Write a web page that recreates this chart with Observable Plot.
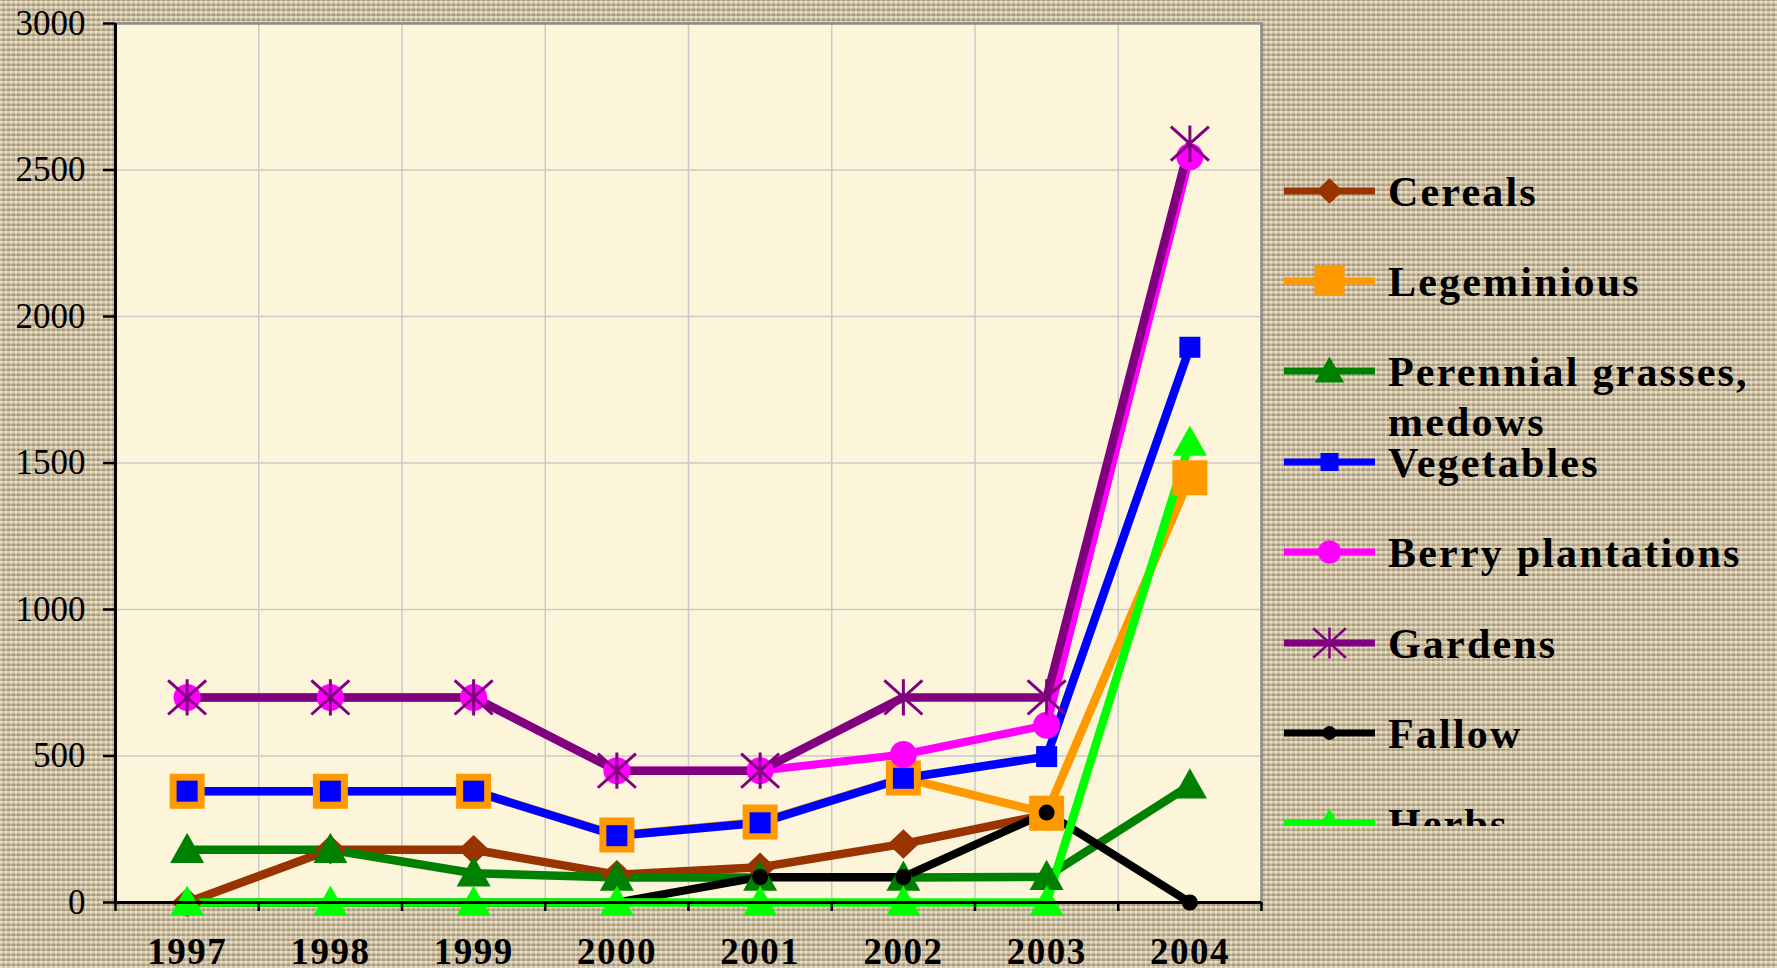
<!DOCTYPE html>
<html>
<head>
<meta charset="utf-8">
<script src="https://cdn.jsdelivr.net/npm/d3@7"></script>
<script src="https://cdn.jsdelivr.net/npm/@observablehq/plot@0.6"></script>
<style>
html, body { margin: 0; padding: 0; width: 1777px; height: 968px; overflow: hidden; }
body {
  position: relative;
  font-family: "Liberation Serif", "Times New Roman", serif;
  background-color: #c9bb9c;
  background-image:
    repeating-linear-gradient(0deg, rgba(255,250,232,0.40) 0px, rgba(255,250,232,0.40) 2px, rgba(110,92,62,0.20) 2px, rgba(110,92,62,0.20) 4px, rgba(255,250,232,0.10) 4px, rgba(255,250,232,0.10) 5px),
    repeating-linear-gradient(90deg, rgba(255,250,232,0.26) 0px, rgba(255,250,232,0.26) 2px, rgba(110,92,62,0.16) 2px, rgba(110,92,62,0.16) 5px);
}
#chart { position: absolute; left: 0; top: 0; }
#chart svg text { font-family: "Liberation Serif", "Times New Roman", serif; }
.xlab text { letter-spacing: 1.5px; }
#legend { position: absolute; left: 1282px; top: 140px; width: 495px; height: 686px; overflow: hidden; }
.sym { position: absolute; left: 0; }
.lab { position: absolute; left: 106px; width: 385px; font-weight: bold; font-size: 42px; letter-spacing: 2.2px; line-height: 50px; color: #000; }
</style>
</head>
<body>
<div id="chart"></div>
<div id="legend"></div>
<script>
// ---- data ----
const years = [1997, 1998, 1999, 2000, 2001, 2002, 2003, 2004];
const cereals     = [0, 180, 180, 95, 120, 200, 300, null];
const legeminious = [380, 380, 380, 230, 275, 425, 305, 1450];
const perennial   = [180, 180, 100, 85, 85, 85, 88, 400];
const vegetables  = [380, 380, 380, 228, 272, 424, 498, 1895];
const berry       = [700, 700, 700, 450, 450, 505, 605, 2545];
const gardens     = [700, 700, 700, 450, 450, 700, 700, 2590];
const fallow      = [0, 0, 0, 0, 87, 87, 307, 0];
const herbs       = [0, 0, 0, 0, 0, 0, 0, 1570];
const seriesNames = ["Cereals", "Legeminious", "Perennial grasses, medows", "Vegetables", "Berry plantations", "Gardens", "Fallow", "Herbs"];
const seriesColors = ["#993300", "#FF9900", "#008000", "#0000FF", "#FF00FF", "#800080", "#000000", "#00FF00"];
const yTicks = [0, 500, 1000, 1500, 2000, 2500, 3000];
const seriesValues = [cereals, legeminious, perennial, vegetables, berry, gardens, fallow, herbs];

// ---- symbols (r recovered from size = PI r^2) ----
const sym = f => ({ draw(c, size) { f(c, Math.sqrt(size / Math.PI)); } });
const diamondSym = sym((c, r) => { c.moveTo(0, -r * 0.95); c.lineTo(r, 0); c.lineTo(0, r * 0.95); c.lineTo(-r, 0); c.closePath(); });
const squareSym = sym((c, r) => { c.moveTo(-r, -r); c.lineTo(r, -r); c.lineTo(r, r); c.lineTo(-r, r); c.closePath(); });
const triangleSym = sym((c, r) => { c.moveTo(0, -r * 1.0); c.lineTo(r, r * 0.78); c.lineTo(-r, r * 0.78); c.closePath(); });
const circleSym = sym((c, r) => { c.moveTo(r, 0); c.arc(0, 0, r, 0, 2 * Math.PI); });
const asteriskSym = sym((c, r) => { c.moveTo(-r, -r * 0.9); c.lineTo(r, r * 0.9); c.moveTo(r, -r * 0.9); c.lineTo(-r, r * 0.9); c.moveTo(0, -r * 0.95); c.lineTo(0, r * 0.95); });

const style = [
  { symbol: diamondSym,  r: 15.5, lw: 8.5, fill: true },
  { symbol: squareSym,   r: 17.5, lw: 8.5, fill: true },
  { symbol: triangleSym, r: 17,   lw: 8.5, fill: true },
  { symbol: squareSym,   r: 10.5, lw: 8.5, fill: true },
  { symbol: circleSym,   r: 13.5, lw: 8,   fill: true },
  { symbol: asteriskSym, r: 19,   lw: 8.5, fill: false },
  { symbol: circleSym,   r: 8,    lw: 8,   fill: true },
  { symbol: triangleSym, r: 17,   lw: 8.5, fill: true }
];

const rows = [];
seriesNames.forEach((name, i) => seriesValues[i].forEach((v, j) => rows.push({ series: name, idx: i, year: years[j], value: v })));

const xDomain = [years[0] - 0.5, years[years.length - 1] + 0.5];
const bounds = d3.range(xDomain[0], xDomain[1] + 0.01, 1);
const innerBounds = bounds.slice(1, -1);
const innerY = yTicks.slice(1, -1);

const lineMarks = seriesNames.map((name, i) =>
  Plot.line(rows.filter(d => d.idx === i), { x: "year", y: "value", stroke: seriesColors[i], strokeWidth: style[i].lw, strokeLinejoin: "round", strokeLinecap: "butt" })
);
const dotMarks = seriesNames.map((name, i) =>
  Plot.dot(rows.filter(d => d.idx === i && d.value != null), {
    x: "year", y: "value", r: style[i].r, symbol: style[i].symbol,
    fill: style[i].fill ? seriesColors[i] : "none",
    stroke: style[i].fill ? "none" : seriesColors[i],
    strokeWidth: style[i].fill ? 0 : 3
  })
);

const chart = Plot.plot({
  width: 1777, height: 968,
  marginLeft: 115, marginRight: 516, marginTop: 23, marginBottom: 66,
  style: { background: "transparent", overflow: "visible" },
  x: { type: "linear", domain: xDomain, axis: null },
  y: { domain: [0, 3000], axis: null },
  marks: [
    Plot.frame({ fill: "#fcf5da", stroke: null }),
    Plot.gridY({ ticks: innerY, stroke: "#c9c9c9", strokeOpacity: 1, strokeWidth: 1.5 }),
    Plot.gridX({ ticks: innerBounds, stroke: "#c9c9c9", strokeOpacity: 1, strokeWidth: 1.5 }),
    Plot.frame({ stroke: "#8a8a8a", strokeWidth: 2.5, fill: "none" }),
    ...lineMarks,
    ...dotMarks,
    Plot.ruleX([xDomain[0]], { stroke: "#000", strokeWidth: 3 }),
    Plot.ruleY([0], { stroke: "#000", strokeWidth: 3 }),
    Plot.axisY({ anchor: "left", label: null, ticks: yTicks, tickSize: 12, tickPadding: 18, stroke: "#000", strokeWidth: 2.5, color: "#000", fill: "#000", fontSize: 35, tickFormat: d => String(d) }),
    Plot.axisX({ anchor: "bottom", label: null, ticks: bounds, tickSize: 9, stroke: "#000", strokeWidth: 2.5, tickFormat: () => "" }),
    Plot.axisX({ anchor: "bottom", label: null, ticks: years, tickSize: 0, tickPadding: 35, fill: "#000", color: "#000", fontSize: 37, fontWeight: "bold", tickFormat: d => String(d), className: "xlab" })
  ]
});
document.getElementById("chart").appendChild(chart);

// ---- legend ----
const legend = document.getElementById("legend");
const legendTop = 140, firstCenter = 190.5, pitch = 90.4, legendScale = 0.86;
seriesNames.forEach((name, i) => {
  const cy = firstCenter + i * pitch - legendTop;
  const svg = d3.create("svg").attr("class", "sym").attr("width", 95).attr("height", 50).style("top", (cy - 25) + "px");
  svg.append("line").attr("x1", 2).attr("x2", 93).attr("y1", 25).attr("y2", 25).attr("stroke", seriesColors[i]).attr("stroke-width", 7);
  const rr = style[i].r * legendScale;
  const p = d3.symbol(style[i].symbol, Math.PI * rr * rr)();
  svg.append("path").attr("d", p).attr("transform", "translate(47.5,25)")
    .attr("fill", style[i].fill ? seriesColors[i] : "none")
    .attr("stroke", style[i].fill ? "none" : seriesColors[i])
    .attr("stroke-width", style[i].fill ? 0 : 2.5);
  legend.appendChild(svg.node());
  const lab = document.createElement("div");
  lab.className = "lab";
  lab.style.top = (cy - 24) + "px";
  lab.textContent = name;
  legend.appendChild(lab);
});
</script>
</body>
</html>
